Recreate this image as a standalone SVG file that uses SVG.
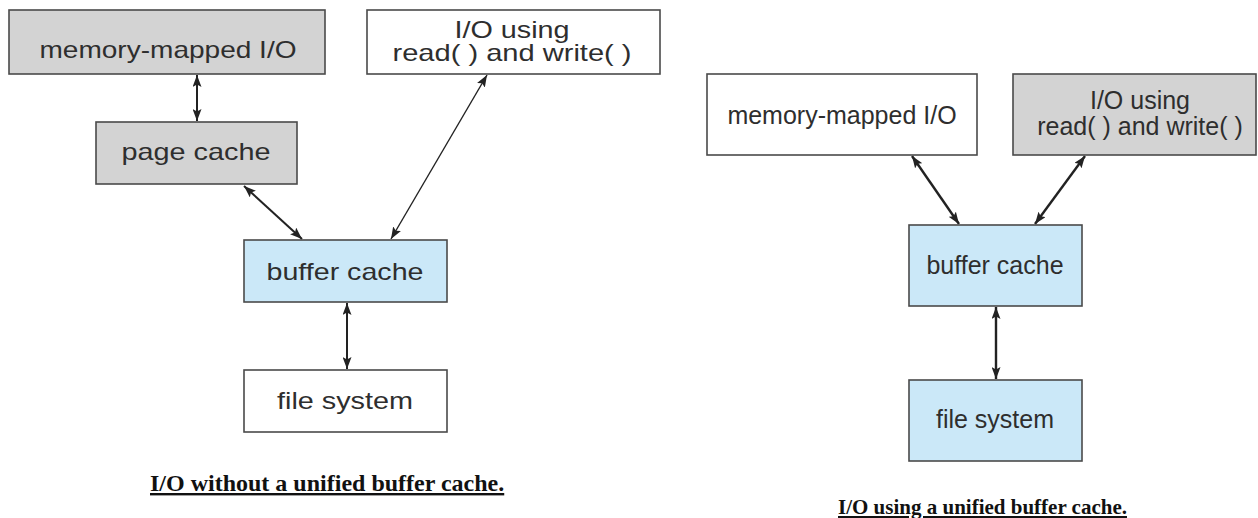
<svg xmlns="http://www.w3.org/2000/svg" width="1258" height="518" viewBox="0 0 1258 518">
<style>
.box{stroke:#4a4a4a;stroke-width:1.6}
.gray{fill:#d3d3d3}
.white{fill:#ffffff}
.blue{fill:#cbe8f8}
.lt{font-family:"Liberation Sans",Arial,sans-serif;font-size:24px;fill:#2e2e2e;text-anchor:middle}
.rt{font-family:"Liberation Sans",Arial,sans-serif;font-size:25px;fill:#2e2e2e;text-anchor:middle}
.cap{font-family:"Liberation Serif","Times New Roman",serif;font-weight:bold;fill:#111;text-decoration:underline;text-decoration-thickness:3px}
.conn{stroke:#222;stroke-width:2;fill:none;marker-start:url(#ah);marker-end:url(#ah)}
.thin{stroke-width:1.4}
.thick{stroke-width:2.4}
</style>
<defs>
<marker id="ah" markerUnits="userSpaceOnUse" markerWidth="12" markerHeight="9" refX="12" refY="4.5" orient="auto-start-reverse">
<path d="M0,0 L12,4.5 L0,9 L2.5,4.5 z" fill="#222"/>
</marker>
</defs>
<rect width="1258" height="518" fill="#ffffff"/>

<g id="connectors">
<line class="conn" x1="197" y1="75" x2="197" y2="121"/>
<line class="conn" x1="244" y1="186" x2="302" y2="239"/>
<line class="conn thin" x1="487" y1="75" x2="391" y2="239"/>
<line class="conn" x1="347" y1="303" x2="347" y2="369"/>
<line class="conn thick" x1="912" y1="156" x2="959" y2="224"/>
<line class="conn thick" x1="1085" y1="156" x2="1035" y2="224"/>
<line class="conn thick" x1="996" y1="307" x2="996" y2="379"/>
</g>

<g id="l-mmio">
<rect class="box gray" x="9" y="10" width="316" height="64"/>
<text class="lt" x="168" y="58" textLength="257" lengthAdjust="spacingAndGlyphs">memory-mapped I/O</text>
</g>
<g id="l-rw">
<rect class="box white" x="367" y="10" width="293" height="64"/>
<text class="lt" x="512" y="38" textLength="115" lengthAdjust="spacingAndGlyphs">I/O using</text>
<text class="lt" x="512" y="61" textLength="239" lengthAdjust="spacingAndGlyphs">read( ) and write( )</text>
</g>
<g id="l-page">
<rect class="box gray" x="96" y="122" width="201" height="62"/>
<text class="lt" x="196" y="160" textLength="149" lengthAdjust="spacingAndGlyphs">page cache</text>
</g>
<g id="l-buffer">
<rect class="box blue" x="244" y="240" width="203" height="62"/>
<text class="lt" x="345" y="280" textLength="157" lengthAdjust="spacingAndGlyphs">buffer cache</text>
</g>
<g id="l-fs">
<rect class="box white" x="244" y="370" width="203" height="62"/>
<text class="lt" x="345" y="409" textLength="136" lengthAdjust="spacingAndGlyphs">file system</text>
</g>
<g id="l-caption">
<text class="cap" x="150" y="491" font-size="24">I/O without a unified buffer cache.</text>
</g>

<g id="r-mmio">
<rect class="box white" x="707" y="74" width="270" height="81"/>
<text class="rt" x="842" y="124">memory-mapped I/O</text>
</g>
<g id="r-rw">
<rect class="box gray" x="1013" y="74" width="243" height="81"/>
<text class="rt" x="1140" y="109">I/O using</text>
<text class="rt" x="1140" y="135">read( ) and write( )</text>
</g>
<g id="r-buffer">
<rect class="box blue" x="909" y="225" width="173" height="81"/>
<text class="rt" x="995" y="274">buffer cache</text>
</g>
<g id="r-fs">
<rect class="box blue" x="909" y="380" width="173" height="81"/>
<text class="rt" x="995" y="428">file system</text>
</g>
<g id="r-caption">
<text class="cap" x="838" y="514" font-size="21">I/O using a unified buffer cache.</text>
</g>
</svg>
